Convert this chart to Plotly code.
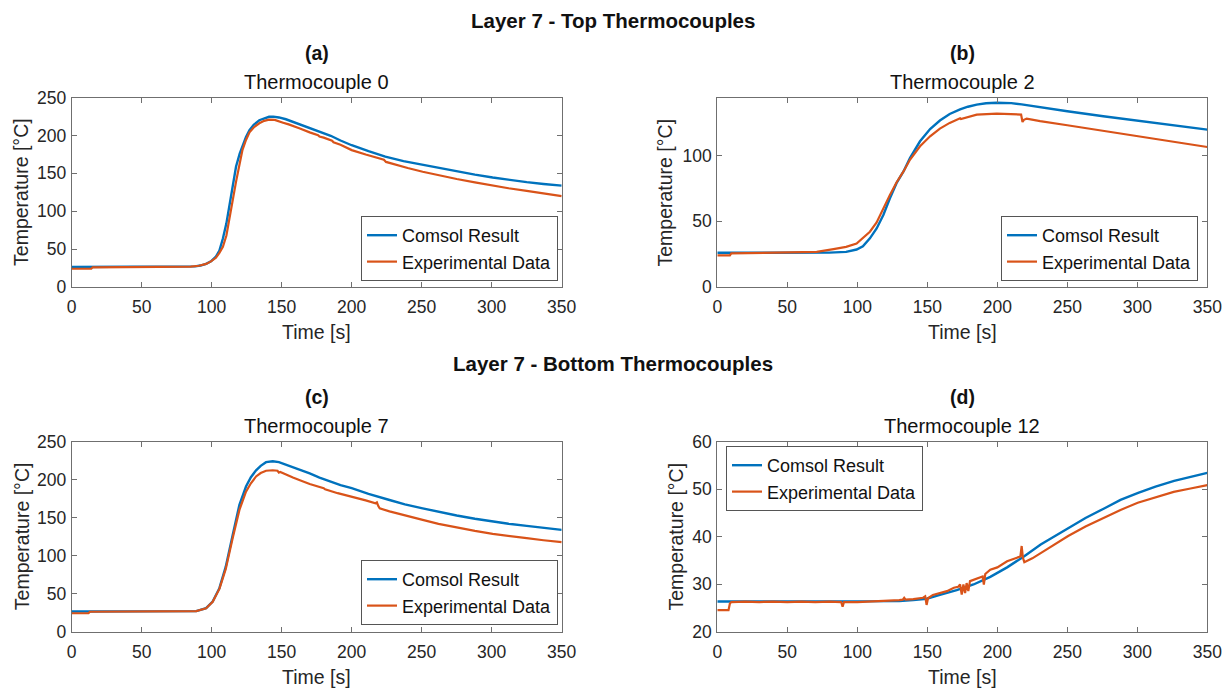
import plotly.graph_objects as go

W, H = 1231, 691
BLUE = "#0072BD"
ORANGE = "#D95319"
FONT = "Liberation Sans, Arial, Helvetica, sans-serif"

# ---------------- data ----------------
# (a) Thermocouple 0
a_com_t = [0, 20, 40, 60, 80, 88, 92, 96, 99.5, 103, 105.5, 108, 110.5, 112.6, 115, 117.4, 120, 122, 124.5, 127,
           130, 134, 137.5, 141, 144, 148, 153, 158, 163, 170, 177, 185, 192, 200, 212, 224, 237, 250.7, 262, 275,
           288, 300.7, 312, 325, 337, 350]
a_com_v = [26.3, 26.3, 26.3, 26.3, 26.5, 27.2, 28.3, 30.5, 33.8, 40, 48, 64, 84, 108, 134, 159, 176, 187, 198, 207,
           214, 220, 222.8, 224.6, 224.8, 223.7, 221.3, 218, 214.5, 209.5, 205, 199.5, 193.3, 187, 179.2, 172, 166,
           161, 156.9, 152.6, 148.2, 144.4, 141.3, 138.3, 135.9, 133.7]
a_exp_t = [0, 14, 15, 30, 50, 70, 85, 91, 96, 99.5, 103, 105.5, 108, 110.5, 112.6, 115, 117.4, 120, 122, 124.5, 127,
           130, 134, 137.5, 141, 145, 148, 150, 151, 155, 158, 163, 170, 176, 177, 180, 186, 187, 192, 200, 210, 218,
           223, 224.5, 230, 240, 250.7, 262, 275, 288, 300.7, 312, 325, 337, 350]
a_exp_v = [24.1, 24.1, 26, 26.1, 26.1, 26.3, 26.8, 28, 30.5, 33.8, 38.5, 45, 53, 68, 91, 115, 139, 163, 181, 194, 204,
           210.5, 216, 219.2, 220.8, 220.5, 219, 218.3, 216.8, 214.5, 212.7, 209, 204, 200.3, 198.5, 197, 193, 191,
           187.8, 180.6, 174.8, 170.3, 168, 165, 162.5, 157, 152, 147.2, 142.5, 138, 133.7, 130.3, 126.7, 123.3, 120]

# (b) Thermocouple 2
b_com_t = [0, 20, 40, 60, 80, 92, 99.5, 104, 109, 113.8, 118.6, 123.3, 128, 133, 137.6, 144.8, 152, 159, 166, 173.4,
           179, 185.3, 192, 199.6, 210, 217.4, 230.6, 250, 275.7, 300, 325.7, 350]
b_com_v = [26, 26, 26, 26, 26.1, 26.7, 28.5, 31, 37, 44.5, 54.7, 67.4, 78.9, 87.8, 98, 110.7, 120, 126.5, 131.5,
           134.9, 137, 138.6, 139.6, 140, 139.7, 138.8, 136.6, 133.6, 129.8, 126.5, 122.9, 119.6]
b_exp_t = [0, 9, 10, 30, 50, 71, 83, 92, 99.5, 104, 109, 113.8, 118.6, 123.3, 128, 133, 137.6, 144.8, 152, 159, 166,
           172, 173.4, 174, 176, 180, 185.3, 199.6, 210, 217, 218, 219, 221, 230.6, 250, 275.7, 300, 325.7, 350]
b_exp_v = [24, 24, 25.5, 25.8, 26, 26.7, 28.8, 30.5, 33, 37, 42, 49, 60, 70, 79.4, 87.8, 96.7, 106.9, 114.5, 120.4,
           124.7, 127.2, 128.2, 127.6, 128.3, 129.5, 131, 131.8, 131.6, 131, 125.4, 127, 128, 126, 122.9, 118.8, 114.5,
           110.7, 106.4]

# (c) Thermocouple 7
c_com_t = [0, 20, 40, 60, 80, 89, 96, 100.7, 105.5, 110, 115, 119.8, 124.5, 128, 131.7, 135, 138.8, 143.6, 148, 153,
           158, 163, 170, 177, 185, 192, 200, 212, 227, 238, 250.7, 262, 275, 288, 300.7, 312, 325, 337, 350]
c_com_v = [26.3, 26.3, 26.3, 26.3, 26.4, 26.8, 30.7, 39.5, 57, 85, 127, 166.7, 190.8, 203, 212, 218, 222.8, 224,
           222.8, 219.5, 216.5, 213.5, 208, 202.6, 197, 192.5, 188.6, 181, 173, 167.2, 162, 157.2, 152.6, 148.4,
           144.7, 141.8, 139, 136.3, 133.7]
c_exp_t = [0, 12, 13, 30, 50, 70, 89, 96, 100.7, 105.5, 110, 115, 119.8, 124.5, 128, 131.7, 135, 138.8, 143.6, 147,
           148, 149, 153, 158, 163, 170, 180, 181, 190, 200, 210, 217, 218, 219, 220, 227, 238, 250.7, 262, 275, 288,
           300.7, 312, 325, 337, 350]
c_exp_v = [24, 24, 26, 26.1, 26.1, 26.2, 26.8, 30.5, 39, 56, 82, 123, 160, 184, 195, 204, 208.5, 211.5, 212.2, 211.5,
           209, 210, 206.5, 202.5, 199, 194, 188.5, 187, 182, 177.6, 172.5, 168.8, 170, 165, 162, 158, 152.5, 146.9,
           141.7, 136.8, 132.4, 128.5, 125.5, 122.8, 120.1, 117.5]

# (d) Thermocouple 12
d_com_t = [0, 20, 50, 80, 110, 130, 140, 149.5, 159, 171, 183, 195, 207, 219, 231, 250.6, 263, 276.3, 288, 300.6,
           313, 326.3, 338, 350]
d_com_v = [26.3, 26.3, 26.3, 26.3, 26.3, 26.4, 26.6, 26.9, 27.7, 28.7, 29.9, 31.5, 33.5, 35.8, 38.3, 41.8, 43.9,
           45.9, 47.7, 49.2, 50.5, 51.7, 52.6, 53.4]
d_exp_t = [0, 8, 9, 10, 20, 30, 40, 50, 60, 70, 80, 88.5, 89.5, 90.5, 100, 110, 120, 130, 132.5, 133.5, 134.5, 140,
           147, 148.5, 149.5, 150.5, 154, 159, 164, 169, 172, 173.4, 174.6, 175.8, 177, 178.1, 179.3, 180.5, 182.9,
           187.7, 189.5, 190.4, 191.4, 195, 200, 207, 212, 216.5, 217.4, 218.3, 219.3, 225, 231, 240, 250.6, 263,
           276, 288, 300.3, 313, 326, 338, 350]
d_exp_v = [24.5, 24.5, 25.9, 26.2, 26.3, 26.2, 26.3, 26.2, 26.3, 26.2, 26.3, 26.2, 25.2, 26.2, 26.2, 26.3, 26.4,
           26.6, 26.7, 27.1, 26.7, 26.8, 27.1, 27.4, 25.6, 27.0, 27.7, 28.1, 28.5, 29.2, 29.4, 29.9, 27.8, 29.9, 28.1,
           30.2, 28.5, 30.6, 30.9, 31.4, 31.6, 29.9, 32.1, 33, 33.5, 34.8, 35.3, 35.8, 38, 35.5, 34.6, 35.4, 36.5,
           38.2, 40.1, 42.1, 43.9, 45.6, 47.1, 48.3, 49.4, 50.1, 50.8]

panels = [
    dict(ct=a_com_t, cv=a_com_v, et=a_exp_t, ev=a_exp_v, yr=[0, 250], ytv=[0, 50, 100, 150, 200, 250]),
    dict(ct=b_com_t, cv=b_com_v, et=b_exp_t, ev=b_exp_v, yr=[0, 144], ytv=[0, 50, 100]),
    dict(ct=c_com_t, cv=c_com_v, et=c_exp_t, ev=c_exp_v, yr=[0, 250], ytv=[0, 50, 100, 150, 200, 250]),
    dict(ct=d_com_t, cv=d_com_v, et=d_exp_t, ev=d_exp_v, yr=[20, 60], ytv=[20, 30, 40, 50, 60]),
]
x_ticks = [0, 50, 100, 150, 200, 250, 300, 350]
labels = ["(a)", "(b)", "(c)", "(d)"]
titles = ["Thermocouple 0", "Thermocouple 2", "Thermocouple 7", "Thermocouple 12"]
headings = ["Layer 7 - Top Thermocouples", "Layer 7 - Bottom Thermocouples"]

# ---------------- layout geometry (pixels) ----------------
px_x = [(71.7, 561.7), (717.3, 1207.3), (71.7, 561.7), (717.3, 1207.3)]
px_y = [(97.5, 287.0), (97.5, 287.0), (441.5, 631.5), (441.5, 631.5)]


def fx(p):
    return p / W


def fy(p):
    return 1 - p / H


fig = go.Figure()
layout = dict(
    template="none",
    width=W, height=H, margin=dict(l=0, r=0, t=0, b=0, autoexpand=False),
    paper_bgcolor="white", plot_bgcolor="white",
    font=dict(family=FONT, color="#262626"),
    annotations=[],
)

axis_common = dict(
    showline=True, linecolor="#6f6f6f", linewidth=1, mirror="ticks",
    ticks="inside", ticklen=5, tickwidth=1, tickcolor="#6f6f6f",
    showgrid=False, zeroline=False, automargin=False,
    tickfont=dict(family=FONT, size=17.5, color="#262626"),
)

legend_pos = [
    dict(x=fx(558), y=fy(281), xanchor="right", yanchor="bottom"),
    dict(x=fx(1198), y=fy(281), xanchor="right", yanchor="bottom"),
    dict(x=fx(558), y=fy(625), xanchor="right", yanchor="bottom"),
    dict(x=fx(726), y=fy(446), xanchor="left", yanchor="top"),
]

for i, p in enumerate(panels):
    n = "" if i == 0 else str(i + 1)
    xa, ya = "x" + n, "y" + n
    lg = "legend" + n
    fig.add_trace(go.Scatter(x=p["ct"], y=p["cv"], mode="lines", name="Comsol Result",
                             line=dict(color=BLUE, width=2.4), xaxis=xa, yaxis=ya, legend=lg))
    fig.add_trace(go.Scatter(x=p["et"], y=p["ev"], mode="lines", name="Experimental Data",
                             line=dict(color=ORANGE, width=2.2), xaxis=xa, yaxis=ya, legend=lg))
    x0, x1 = px_x[i]
    y0, y1 = px_y[i]
    layout["xaxis" + n] = dict(axis_common, domain=[fx(x0), fx(x1)], range=[0, 350], tickvals=x_ticks,
                               anchor=ya, ticklabelstandoff=4)
    layout["yaxis" + n] = dict(axis_common, domain=[fy(y1), fy(y0)], range=p["yr"], tickvals=p["ytv"],
                               anchor=xa, ticklabelstandoff=1)
    layout[lg] = dict(legend_pos[i], bgcolor="white", bordercolor="#555555", borderwidth=1,
                      font=dict(family=FONT, size=18, color="#111111"), itemwidth=30,
                      tracegroupgap=0, traceorder="normal")
    cx = (x0 + x1) / 2
    # panel label and title
    layout["annotations"].append(dict(text="<b>" + labels[i] + "</b>", x=fx(cx), y=fy(y0 - 44.5),
                                      xref="paper", yref="paper", showarrow=False, xanchor="center",
                                      yanchor="middle", font=dict(family=FONT, size=19.5, color="#111111")))
    layout["annotations"].append(dict(text=titles[i], x=fx(cx), y=fy(y0 - 16), xref="paper", yref="paper",
                                      showarrow=False, xanchor="center", yanchor="middle",
                                      font=dict(family=FONT, size=20, color="#111111")))
    # axis titles
    layout["annotations"].append(dict(text="Time [s]", x=fx(cx), y=fy(y1 + 45), xref="paper", yref="paper",
                                      showarrow=False, xanchor="center", yanchor="middle",
                                      font=dict(family=FONT, size=19.5, color="#262626")))
    ytx = [21.7, 665.3, 21.7, 675.0][i]
    layout["annotations"].append(dict(text="Temperature [°C]", x=fx(ytx), y=fy((y0 + y1) / 2), xref="paper",
                                      yref="paper", showarrow=False, xanchor="center", yanchor="middle",
                                      textangle=-90, font=dict(family=FONT, size=19.5, color="#262626")))

for txt, ypx in zip(headings, [20, 363]):
    layout["annotations"].append(dict(text="<b>" + txt + "</b>", x=fx(613), y=fy(ypx), xref="paper", yref="paper",
                                      showarrow=False, xanchor="center", yanchor="middle",
                                      font=dict(family=FONT, size=20.5, color="#111111")))

fig.update_layout(**layout)
fig.write_html("out.html")
